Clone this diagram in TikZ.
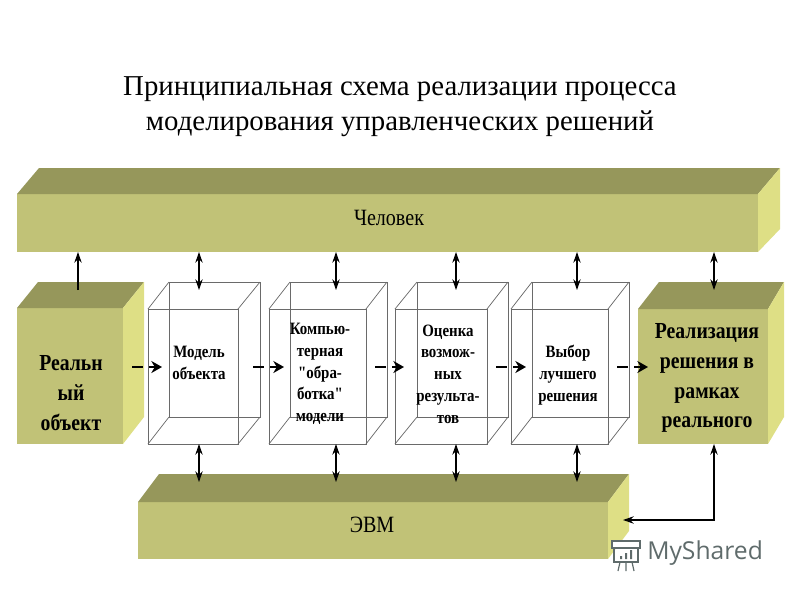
\documentclass[tikz,border=0pt]{standalone}
\usepackage{fontspec}
\usetikzlibrary{arrows.meta}
\setmainfont{Liberation Serif}
\setsansfont{Open Sans}
\newfontfamily\narrowfont[FakeStretch=0.86]{Liberation Serif}
\definecolor{facefront}{HTML}{C1C277}
\definecolor{facetop}{HTML}{96975B}
\definecolor{faceside}{HTML}{DEDF85}
\definecolor{wiregray}{HTML}{6A6A6A}
\definecolor{markgray}{HTML}{5F6B6B}
\tikzset{
  solidbox/.style={fill=facefront,inner sep=0pt,outer sep=0pt},
  wirebox/.style={draw=wiregray,line width=0.55pt,inner sep=0pt,outer sep=0pt},
  backline/.style={draw=wiregray,line width=0.55pt},
  boldtext/.style={font=\narrowfont\bfseries\fontsize{17.2}{22.4}\selectfont,align=center},
  boxtext/.style={font=\narrowfont\bfseries\fontsize{13}{16.3}\selectfont,align=center},
  bartext/.style={font=\narrowfont\fontsize{17.5}{20}\selectfont},
  link/.style={line width=0.9pt,>={Stealth[length=8pt,width=5.5pt]}},
  flow/.style={line width=2pt,dash pattern=on 8pt off 5pt on 12pt,-{Stealth[length=8pt,width=9pt]}},
}
\begin{document}
\begin{tikzpicture}[x=0.75pt,y=-0.75pt]
  \useasboundingbox (0,0) rectangle (800,600);
  % title
  \node[font=\fontsize{21.6}{26.2}\selectfont,align=center] (title) at (400,107)
    {Принципиальная схема реализации процесса\\моделирования управленческих решений};

  % upper bar
  \node[solidbox,minimum width=555.75pt,minimum height=43.5pt] (man) at (387.5,223) {};
  \fill[facetop] (man.north west) -- ++(22,-26) -- ++(741,0) -- (man.north east) -- cycle;
  \fill[faceside] (man.north east) -- ++(22,-26) -- ++(0,61) -- (man.south east) -- cycle;
  \node[bartext] (mantext) at (389,218) {Человек};

  % lower bar
  \node[solidbox,minimum width=352.5pt,minimum height=42.75pt] (evm) at (373,530.5) {};
  \fill[facetop] (evm.north west) -- ++(21,-28) -- ++(470,0) -- (evm.north east) -- cycle;
  \fill[faceside] (evm.north east) -- ++(21,-28) -- ++(0,57) -- (evm.south east) -- cycle;
  \node[bartext] (evmtext) at (372,525) {ЭВМ};

  % real object
  \node[solidbox,minimum width=79.5pt,minimum height=102pt] (real) at (70,376) {};
  \fill[facetop] (real.north west) -- ++(21,-26) -- ++(106,0) -- (real.north east) -- cycle;
  \fill[faceside] (real.north east) -- ++(21,-26) -- ++(0,135) -- (real.south east) -- cycle;
  \node[boldtext] (realtext) at (71,393) {Реальн\\ый\\объект};

  % decision
  \node[solidbox,minimum width=97.5pt,minimum height=101.25pt] (done) at (703,376.5) {};
  \fill[facetop] (done.north west) -- ++(21,-27) -- ++(125,0) -- (done.north east) -- cycle;
  \fill[faceside] (done.north east) -- ++(16,-27) -- ++(0,135) -- (done.south east) -- cycle;
  \node[boldtext] (donetext) at (707,378) {Реализация\\решения в\\рамках\\реального};

  % wire boxes
  \node[wirebox,minimum width=67.5pt,minimum height=101.25pt] (model) at (193,376.5) {};
  \draw[backline] (169,282) rectangle (260,417);
  \draw[backline] (model.north west) -- (169,282) (model.north east) -- (260,282)
    (model.south west) -- (169,417) (model.south east) -- (260,417);
  \node[boxtext] (modeltext) at (199,363) {Модель\\объекта};

  \node[wirebox,minimum width=72.75pt,minimum height=101.25pt] (comp) at (317.5,376.5) {};
  \draw[backline] (290,282) rectangle (387,417);
  \draw[backline] (comp.north west) -- (290,282) (comp.north east) -- (387,282)
    (comp.south west) -- (290,417) (comp.south east) -- (387,417);
  \node[boxtext] (comptext) at (320,374) {Компью-\\терная\\"обра-\\ботка"\\модели};

  \node[wirebox,minimum width=69pt,minimum height=101.25pt] (rate) at (441,376.5) {};
  \draw[backline] (417,282) rectangle (508,417);
  \draw[backline] (rate.north west) -- (417,282) (rate.north east) -- (508,282)
    (rate.south west) -- (417,417) (rate.south east) -- (508,417);
  \node[boxtext] (ratetext) at (448,374) {Оценка\\возмож-\\ных\\результа-\\тов};

  \node[wirebox,minimum width=72.75pt,minimum height=101.25pt] (best) at (559.5,376.5) {};
  \draw[backline] (532,282) rectangle (629,417);
  \draw[backline] (best.north west) -- (532,282) (best.north east) -- (629,282)
    (best.south west) -- (532,417) (best.south east) -- (629,417);
  \node[boxtext] (besttext) at (568,375) {Выбор\\лучшего\\решения};

  % ends on the top faces and on the lower bar
  \coordinate (upreal) at (78,290);
  \coordinate (upmodel) at (199,290);
  \coordinate (upcomp) at (336,290);
  \coordinate (uprate) at (456,290);
  \coordinate (upbest) at (577,290);
  \coordinate (updone) at (714,290);
  \coordinate (lowmodel) at (199,482);
  \coordinate (lowcomp) at (336,482);
  \coordinate (lowrate) at (456,482);
  \coordinate (lowbest) at (577,482);
  \coordinate (evmin) at (623,520);
  \coordinate (corner) at (714,520);

  % arrows to the upper bar
  \draw[link,->] (upreal) -- (man.south -| upreal);
  \draw[link,<->] (upmodel) -- (man.south -| upmodel);
  \draw[link,<->] (upcomp) -- (man.south -| upcomp);
  \draw[link,<->] (uprate) -- (man.south -| uprate);
  \draw[link,<->] (upbest) -- (man.south -| upbest);
  \draw[link,<->] (updone) -- (man.south -| updone);

  % arrows to the lower bar
  \draw[link,<->] (model.south -| lowmodel) -- (lowmodel);
  \draw[link,<->] (comp.south -| lowcomp) -- (lowcomp);
  \draw[link,<->] (rate.south -| lowrate) -- (lowrate);
  \draw[link,<->] (best.south -| lowbest) -- (lowbest);
  \draw[link,<->,line width=1.2pt] (done.south -| corner) -- (corner) -- (evmin);

  % flow between the boxes
  \coordinate (flowa) at (132,367);
  \coordinate (flowb) at (162,367);
  \coordinate (flowc) at (253,367);
  \coordinate (flowd) at (284,367);
  \coordinate (flowe) at (375,367);
  \coordinate (flowf) at (404,367);
  \coordinate (flowg) at (496,367);
  \coordinate (flowh) at (526,367);
  \coordinate (flowi) at (617,367);
  \coordinate (flowj) at (648,367);
  \draw[flow] (flowa) -- (flowb);
  \draw[flow] (flowc) -- (flowd);
  \draw[flow] (flowe) -- (flowf);
  \draw[flow] (flowg) -- (flowh);
  \draw[flow] (flowi) -- (flowj);

  % watermark
  \node[font=\sffamily\fontsize{18.5}{20}\selectfont,text=markgray,anchor=west,inner sep=0pt] (mark) at (647,553) {MyShared};
  \draw[markgray,line width=0.9pt,fill=white] (612,541) rectangle (640,548);
  \draw[markgray,line width=1pt] (614,548) rectangle (638,562);
  \draw[markgray,line width=0.9pt] (620,562) -- (618,571) (626,562) -- (626,571) (632,562) -- (634,571);
  \fill[markgray] (620,556) rectangle (622,559) (625,553) rectangle (627,559) (630,550) rectangle (632,559);
\end{tikzpicture}
\end{document}
